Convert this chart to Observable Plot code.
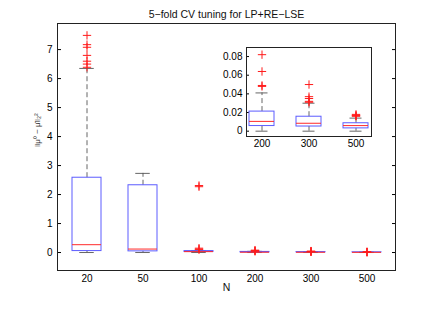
<!DOCTYPE html>
<html>
<head>
<meta charset="utf-8">
<script src="https://cdn.jsdelivr.net/npm/d3@7"></script>
<script src="https://cdn.jsdelivr.net/npm/@observablehq/plot@0.6"></script>
<style>
  html, body { margin: 0; padding: 0; background: #fff; }
  #wrap { position: relative; width: 436px; height: 320px; font-family: "Liberation Sans", Arial, sans-serif; }
  #inset { position: absolute; left: 216px; top: 40px; }
  svg { overflow: visible; }
</style>
</head>
<body>
<div id="wrap"><div id="main"></div><div id="inset"></div></div>
<script>
const title = "5\u2212fold CV tuning for LP+RE\u2212LSE";
const xLabel = "N";
const yLabel = "\u2016\u03bc\u2070 \u2212 \u03bc\u0302\u2016\u2082\u00b2";
const categories = ["20", "50", "100", "200", "300", "500"];
const lowerWhisker = [0, 0, 0, 0, 0, 0];
const q1 = [0.05, 0.04, 0.02, 0.0055, 0.005, 0.003];
const median = [0.27, 0.12, 0.03, 0.0105, 0.0085, 0.006];
const q3 = [2.58, 2.32, 0.05, 0.021, 0.0155, 0.0085];
const upperWhisker = [6.35, 2.73, 0.07, 0.041, 0.030, 0.014];
const outliers = [
  [6.39, 6.5, 6.6, 6.8, 7.08, 7.17, 7.49],
  [],
  [0.1, 0.12, 0.15, 2.27, 2.31],
  [0.048, 0.049, 0.064, 0.082],
  [0.031, 0.032, 0.035, 0.037, 0.050],
  [0.016, 0.0165, 0.017, 0.018]
];
const mainTicks = [0, 1, 2, 3, 4, 5, 6, 7];
const insetCategories = ["200", "300", "500"];
const insetTicks = [0, 0.02, 0.04, 0.06, 0.08];

const rows = categories.map((c, i) => ({cat: c, lo: lowerWhisker[i], q1: q1[i], med: median[i], q3: q3[i], hi: upperWhisker[i]}));
const outRows = categories.flatMap((c, i) => outliers[i].map(v => ({cat: c, v})));

const boxColor = "#5c5cff", medColor = "#ff2a2a", whiskColor = "#555", outColor = "#ff1a1a";

function boxMarks(r, o, bw) {
  return [
    Plot.ruleX(r, {x: "cat", y1: "q3", y2: "hi", stroke: whiskColor, strokeWidth: 0.9, strokeDasharray: "5,3"}),
    Plot.ruleX(r, {x: "cat", y1: "lo", y2: "q1", stroke: whiskColor, strokeWidth: 0.9, strokeDasharray: "5,3"}),
    Plot.tickY(r, {x: "cat", y: "hi", stroke: whiskColor, strokeWidth: 0.9, insetLeft: bw / 4, insetRight: bw / 4}),
    Plot.tickY(r, {x: "cat", y: "lo", stroke: whiskColor, strokeWidth: 0.9, insetLeft: bw / 4, insetRight: bw / 4}),
    Plot.barY(r, {x: "cat", y1: "q1", y2: "q3", fill: "none", stroke: boxColor, strokeWidth: 1}),
    Plot.tickY(r, {x: "cat", y: "med", stroke: medColor, strokeWidth: 1}),
    Plot.dot(o, {x: "cat", y: "v", symbol: "plus", r: 2.8, stroke: outColor, strokeWidth: 1})
  ];
}

const main = Plot.plot({
  width: 436, height: 320,
  marginLeft: 57, marginRight: 41, marginTop: 23, marginBottom: 50,
  style: {fontFamily: "Liberation Sans, Arial, sans-serif", fontSize: "10px", background: "white"},
  x: {type: "band", domain: categories, paddingInner: 0.485, paddingOuter: 0.2425},
  y: {domain: [-0.62, 7.9]},
  marks: [
    Plot.axisY(mainTicks, {anchor: "left", tickSize: 0, tickPadding: 5, label: null, fontSize: 10}),
    Plot.axisY(mainTicks, {anchor: "left", tickSize: -4, tickFormat: () => "", label: null}),
    Plot.axisY(mainTicks, {anchor: "right", tickSize: -4, tickFormat: () => "", label: null}),
    Plot.axisX({anchor: "bottom", tickSize: 0, tickPadding: 4, label: null, fontSize: 10}),
    ...boxMarks(rows, outRows, 29),
    Plot.frame({stroke: "#222", strokeWidth: 1}),
    Plot.text([title], {frameAnchor: "top", dy: -13, fontSize: 10.5, fill: "#111"}),
    Plot.text([xLabel], {frameAnchor: "bottom", dy: 20, fontSize: 10.5, fill: "#111"}),
    Plot.text([yLabel], {frameAnchor: "left", dx: -20, rotate: -90, fontSize: 8, fill: "#333"})
  ]
});
document.getElementById("main").appendChild(main);

const insetRows = rows.filter(d => insetCategories.includes(d.cat));
const insetOut = outRows.filter(d => insetCategories.includes(d.cat));
const inset = Plot.plot({
  width: 160, height: 115,
  marginLeft: 30, marginRight: 5, marginTop: 7, marginBottom: 19,
  style: {fontFamily: "Liberation Sans, Arial, sans-serif", fontSize: "10px", background: "white"},
  x: {type: "band", domain: insetCategories, paddingInner: 0.458, paddingOuter: 0.04},
  y: {domain: [-0.0057, 0.0897]},
  marks: [
    Plot.axisY(insetTicks, {anchor: "left", tickSize: 0, tickPadding: 4, label: null, fontSize: 10, tickFormat: d => d === 0 ? "0" : d.toFixed(2)}),
    Plot.axisY(insetTicks, {anchor: "left", tickSize: -3, tickFormat: () => "", label: null}),
    Plot.axisX({anchor: "bottom", tickSize: 0, tickPadding: 3, label: null, fontSize: 10}),
    ...boxMarks(insetRows, insetOut, 26),
    Plot.frame({stroke: "#222", strokeWidth: 1})
  ]
});
document.getElementById("inset").appendChild(inset);
</script>
</body>
</html>
